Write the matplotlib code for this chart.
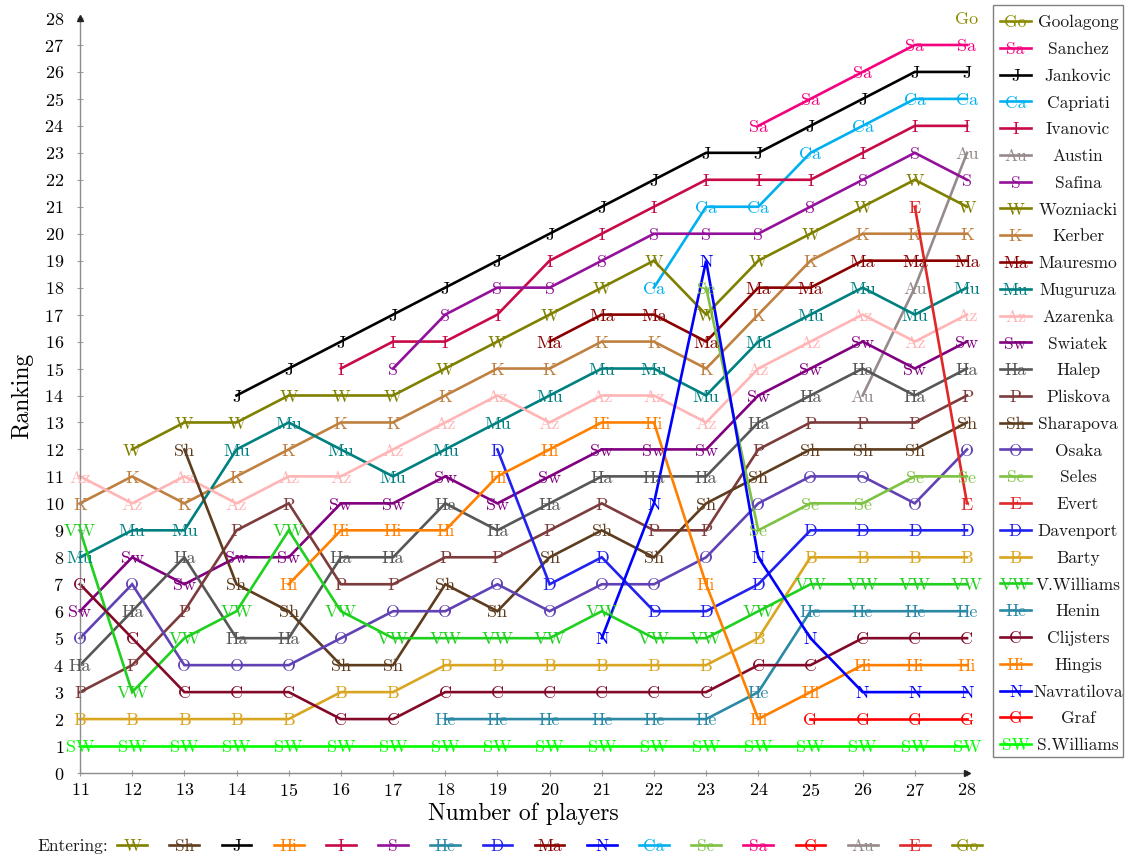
import matplotlib
matplotlib.use("Agg")
import matplotlib.pyplot as plt
from matplotlib import transforms
from matplotlib.lines import Line2D
from matplotlib.patches import Rectangle

plt.rcParams['font.family'] = ['cmr10', 'DejaVu Serif']
plt.rcParams['axes.formatter.use_mathtext'] = True
plt.rcParams['mathtext.fontset'] = 'cm'

# Number of players considered (x axis)
n_players = [11, 12, 13, 14, 15, 16, 17, 18, 19, 20, 21, 22, 23, 24, 25, 26, 27, 28]

# Players, listed by their final ranking (top to bottom)
names = ['Goolagong', 'Sanchez', 'Jankovic', 'Capriati', 'Ivanovic', 'Austin',
         'Safina', 'Wozniacki', 'Kerber', 'Mauresmo', 'Muguruza', 'Azarenka',
         'Swiatek', 'Halep', 'Pliskova', 'Sharapova', 'Osaka', 'Seles', 'Evert',
         'Davenport', 'Barty', 'V.Williams', 'Henin', 'Clijsters', 'Hingis',
         'Navratilova', 'Graf', 'S.Williams']
abbrevs = ['Go', 'Sa', 'J', 'Ca', 'I', 'Au', 'S', 'W', 'K', 'Ma', 'Mu', 'Az',
           'Sw', 'Ha', 'P', 'Sh', 'O', 'Se', 'E', 'D', 'B', 'VW', 'He', 'C',
           'Hi', 'N', 'G', 'SW']
colors = ['#8b8b00', '#f5007f', '#000000', '#00b0f0', '#c80a46', '#978a8a',
          '#93119a', '#808000', '#bf8040', '#8a0000', '#008080', '#ffb5b5',
          '#800080', '#575757', '#7d3b3b', '#5e3c1e', '#6142b4', '#7dc242',
          '#e02828', '#2222ee', '#daa520', '#1fd01f', '#2b89a6', '#820a28',
          '#ff8000', '#0000ff', '#ff0000', '#00ff00']
# Number of players at which each player first appears
entry = [28, 24, 14, 22, 16, 26, 17, 12, 11, 20, 11, 11,
         11, 11, 11, 13, 11, 23, 27, 19, 11, 11, 18, 11,
         15, 21, 25, 11]

# Rankings from the entry point onwards
goolagong = [28]
sanchez = [24, 25, 26, 27, 27]
jankovic = [14, 15, 16, 17, 18, 19, 20, 21, 22, 23, 23, 24, 25, 26, 26]
capriati = [18, 21, 21, 23, 24, 25, 25]
ivanovic = [15, 16, 16, 17, 19, 20, 21, 22, 22, 22, 23, 24, 24]
austin = [14, 18, 23]
safina = [15, 17, 18, 18, 19, 20, 20, 20, 21, 22, 23, 22]
wozniacki = [12, 13, 13, 14, 14, 14, 15, 16, 17, 18, 19, 17, 19, 20, 21, 22, 21]
kerber = [10, 11, 10, 11, 12, 13, 13, 14, 15, 15, 16, 16, 15, 17, 19, 20, 20, 20]
mauresmo = [16, 17, 17, 16, 18, 18, 19, 19, 19]
muguruza = [8, 9, 9, 12, 13, 12, 11, 12, 13, 14, 15, 15, 14, 16, 17, 18, 17, 18]
azarenka = [11, 10, 11, 10, 11, 11, 12, 13, 14, 13, 14, 14, 13, 15, 16, 17, 16, 17]
swiatek = [6, 8, 7, 8, 8, 10, 10, 11, 10, 11, 12, 12, 12, 14, 15, 16, 15, 16]
halep = [4, 6, 8, 5, 5, 8, 8, 10, 9, 10, 11, 11, 11, 13, 14, 15, 14, 15]
pliskova = [3, 4, 6, 9, 10, 7, 7, 8, 8, 9, 10, 9, 9, 12, 13, 13, 13, 14]
sharapova = [12, 7, 6, 4, 4, 7, 6, 8, 9, 8, 10, 11, 12, 12, 12, 13]
osaka = [5, 7, 4, 4, 4, 5, 6, 6, 7, 6, 7, 7, 8, 10, 11, 11, 10, 12]
seles = [18, 9, 10, 10, 11, 11]
evert = [21, 10]
davenport = [12, 7, 8, 6, 6, 7, 9, 9, 9, 9]
barty = [2, 2, 2, 2, 2, 3, 3, 4, 4, 4, 4, 4, 4, 5, 8, 8, 8, 8]
vwilliams = [9, 3, 5, 6, 9, 6, 5, 5, 5, 5, 6, 5, 5, 6, 7, 7, 7, 7]
henin = [2, 2, 2, 2, 2, 2, 3, 6, 6, 6, 6]
clijsters = [7, 5, 3, 3, 3, 2, 2, 3, 3, 3, 3, 3, 3, 4, 4, 5, 5, 5]
hingis = [7, 9, 9, 9, 11, 12, 13, 13, 7, 2, 3, 4, 4, 4]
navratilova = [5, 10, 19, 8, 5, 3, 3, 3]
graf = [2, 2, 2, 2]
swilliams = [1, 1, 1, 1, 1, 1, 1, 1, 1, 1, 1, 1, 1, 1, 1, 1, 1, 1]

rankings = [goolagong, sanchez, jankovic, capriati, ivanovic, austin, safina,
            wozniacki, kerber, mauresmo, muguruza, azarenka, swiatek, halep,
            pliskova, sharapova, osaka, seles, evert, davenport, barty,
            vwilliams, henin, clijsters, hingis, navratilova, graf, swilliams]

W_PX, H_PX = 1126, 857
fig = plt.figure(figsize=(W_PX / 100, H_PX / 100), dpi=100)
ax = fig.add_axes([80 / W_PX, 1 - 773 / H_PX, 887 / W_PX, 755 / H_PX])

LW = 1.9
MARK_FS = 13

for abbr, col, start, ranks in zip(abbrevs, colors, entry, rankings):
    xs = n_players[n_players.index(start):]
    ax.plot(xs, ranks, color=col, lw=LW, zorder=2, clip_on=False,
            solid_joinstyle='miter')
    for x, y in zip(xs, ranks):
        ax.text(x, y, abbr, color=col, fontsize=MARK_FS, ha='center',
                va='center_baseline', zorder=3, clip_on=False)

ax.set_xlim(11, 28)
ax.set_ylim(0, 28)
ax.set_xticks(n_players)
ax.set_yticks(list(range(0, 29)))
for side in ('top', 'right'):
    ax.spines[side].set_visible(False)
for side in ('left', 'bottom'):
    ax.spines[side].set_color('#8c8c8c')
    ax.spines[side].set_linewidth(1.0)
ax.tick_params(direction='inout', length=5, width=0.8, color='#a0a0a0',
               labelsize=13, labelcolor='black')
ax.tick_params(axis='y', pad=9)
ax.tick_params(axis='x', pad=4)

# axis arrows
ax.plot(1, 0, marker='>', color='#222222', ms=5, transform=ax.transAxes,
        clip_on=False, zorder=4)
ax.plot(0, 1, marker='^', color='#222222', ms=5, transform=ax.transAxes,
        clip_on=False, zorder=4)

ax.set_xlabel('Number of players', fontsize=17, va='center')
ax.xaxis.set_label_coords(0.5, (773 - 814) / 755)
ax.set_ylabel('Ranking', fontsize=17, va='center')
ax.yaxis.set_label_coords((22 - 80) / 887, 0.5)

# Legend box on the right, following the final ranking order
def fx(px):
    return px / W_PX

def fy(py):
    return 1 - py / H_PX

fig.add_artist(Rectangle((fx(993), fy(757)), fx(1123) - fx(993),
                         fy(5) - fy(757), transform=fig.transFigure,
                         facecolor='white', edgecolor='#808080', lw=1.0))
for i, (name, abbr, col) in enumerate(zip(names, abbrevs, colors)):
    yy = fy(21 + 26.78 * i)
    fig.add_artist(Line2D([fx(1000), fx(1031)], [yy, yy], color=col, lw=LW,
                          transform=fig.transFigure))
    fig.text(fx(1015.5), yy, abbr, color=col, fontsize=12.5, ha='center',
             va='center_baseline')
    fig.text(fx(1078), yy, name, color='#1a1a1a', fontsize=12.5, ha='center',
             va='center_baseline')

# "Entering" strip aligned with the player count at which each player enters
blend = transforms.blended_transform_factory(ax.transData, fig.transFigure)
y_ent = fy(845)
fig.text(fx(108), y_ent, 'Entering:', fontsize=12.5, color='#1a1a1a',
         ha='right', va='center_baseline')
half = 0.285
for abbr, col, start in sorted(zip(abbrevs, colors, entry), key=lambda t: t[2]):
    if start == n_players[0]:
        continue
    fig.add_artist(Line2D([start - half, start + half], [y_ent, y_ent],
                          color=col, lw=LW, transform=blend))
    fig.text(start, y_ent, abbr, color=col, fontsize=12.5, ha='center',
             va='center_baseline', transform=blend)

fig.savefig('out.png', dpi=100)
